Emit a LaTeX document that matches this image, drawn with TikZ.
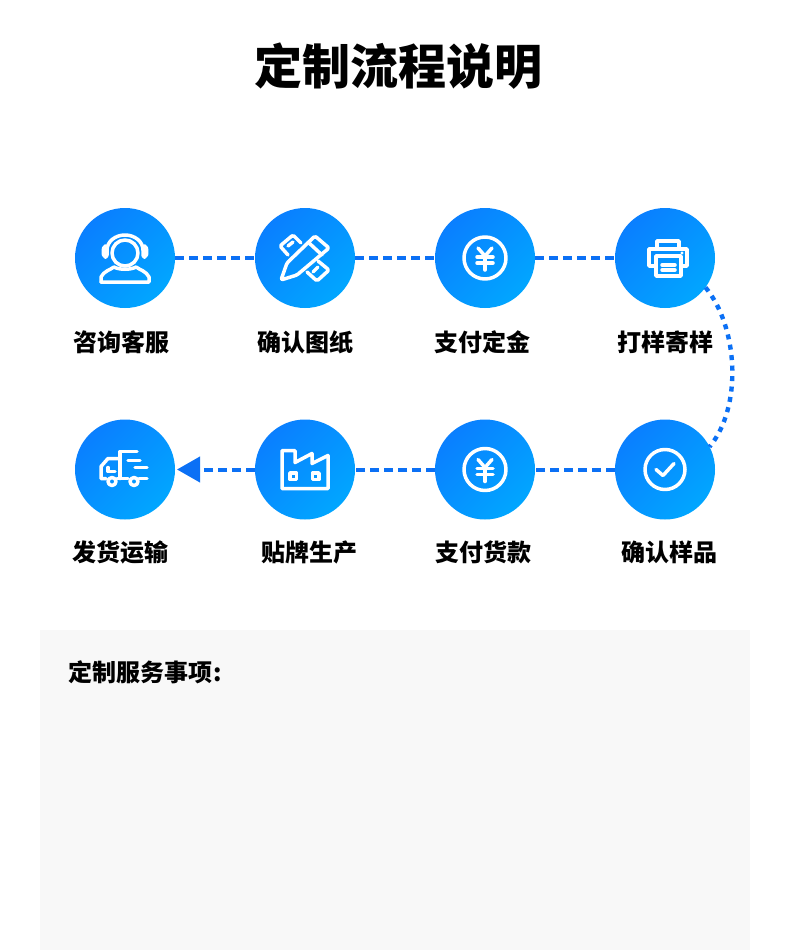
\documentclass[tikz,border=0pt]{standalone}
\usepackage{fontspec}
\setmainfont{Noto Sans CJK SC}
\usetikzlibrary{arrows.meta}
\definecolor{linkblue}{HTML}{0B70F5}
\definecolor{panelgray}{HTML}{F8F8F8}
\definecolor{gradA}{HTML}{0A7FFF}
\definecolor{gradB}{HTML}{01A6FF}
\tikzset{
  stepdisc/.style={circle,minimum size=100pt,inner sep=0pt,outer sep=0pt,shading=axis,top color=gradA,bottom color=gradB,middle color=gradA!50!gradB,shading angle=45},
  steplabel/.style={inner sep=0pt,font=\fontsize{24}{24}\selectfont\bfseries,text=black},
  linkline/.style={linkblue,line width=4pt,dash pattern=on 9pt off 5pt},
  linkdots/.style={linkblue,line width=4.4pt,dash pattern=on 5pt off 5.5pt},
  icon/.style={white,line width=3.5pt,line join=round,line cap=round,fill=none},
}
\begin{document}
\begin{tikzpicture}[x=1pt,y=-1pt]
\useasboundingbox (0,0) rectangle (790,950);
\fill[white] (0,0) rectangle (790,950);
\fill[panelgray] (40,630) rectangle (750,950);
\node[inner sep=0pt,font=\fontsize{48}{48}\selectfont\bfseries] (title) at (398,66) {定制流程说明};
\node[stepdisc] (c1) at (125,258) {};
\node[stepdisc] (c2) at (305,258) {};
\node[stepdisc] (c3) at (485,258) {};
\node[stepdisc] (c4) at (665,258) {};
\node[stepdisc] (c5) at (665,469.5) {};
\node[stepdisc] (c6) at (485,469.5) {};
\node[stepdisc] (c7) at (305,469.5) {};
\node[stepdisc] (c8) at (125,469.5) {};
\node[steplabel] (l1) at (121,342) {咨询客服};
\node[steplabel] (l2) at (305,342) {确认图纸};
\node[steplabel] (l3) at (482,342) {支付定金};
\node[steplabel] (l4) at (665,342) {打样寄样};
\node[steplabel] (l5) at (669,552) {确认样品};
\node[steplabel] (l6) at (483,552) {支付货款};
\node[steplabel] (l7) at (309,552) {贴牌生产};
\node[steplabel] (l8) at (120,552) {发货运输};
\node[inner sep=0pt,anchor=west,font=\fontsize{24}{24}\selectfont\bfseries] (head) at (68,672) {定制服务事项\hspace{1pt}:};
\draw[linkline] (c1) -- (c2);
\draw[linkline] (c2) -- (c3);
\draw[linkline] (c3) -- (c4);
\draw[linkdots] (c4.-36) .. controls +(33,40) and +(33,-40) .. (c5.27);
\draw[linkline] (c5) -- (c6);
\draw[linkline] (c6) -- (c7);
\draw[linkline,-{Triangle[length=23pt,width=25pt]},shorten >=2pt] (c7) -- (c8);
% icons
\begin{scope}[shift={(c1)},icon]
 \draw (0,-5) circle (13);
 \draw (-18,-8) arc (180:360:18 and 15);
 \draw[rounded corners=2pt] (-18,-12) -- (-21,-12) -- (-22,-6) -- (-21,-1) -- (-18,-1) -- cycle;
 \draw[rounded corners=2pt] (18,-12) -- (21,-12) -- (22,-6) -- (21,-1) -- (18,-1) -- cycle;
 \draw (-24,24) -- (24,24) -- (24,19) .. controls (21,13) and (15,12) .. (11,9);
 \draw (-11,9) .. controls (-15,12) and (-21,13) .. (-24,19) -- (-24,24);
 \draw (-11,9) .. controls (-6,12) and (6,12) .. (11,9);
\end{scope}
\begin{scope}[shift={(c2)},icon,rounded corners=1.5pt]
 \draw (-24,22) -- (-18,5) -- (10,-22) -- (24,-10) -- (-8,17) -- cycle;
 \draw (3,-16) -- (17,-3);
 \draw (-4,-15) -- (-12,-23) -- (-25,-12) -- (-17,-3);
 \draw (-17,-12) -- (-12,-16);
 \draw (13,3) -- (24,12) -- (12,23) -- (2,14);
 \draw (8,14) -- (13,9);
\end{scope}
\begin{scope}[shift={(c3)},icon]
 \draw (0,0) circle (21);
 \draw (-7,-10) -- (0,-2) -- (7,-10);
 \draw (-8,-1) -- (8,-1); \draw (-8,5) -- (8,5);
 \draw (0,-2) -- (0,12);
\end{scope}
\begin{scope}[shift={(c4)},icon]
 \draw (-8,-10) -- (-8,-17) -- (14,-17) -- (14,-10);
 \draw (-9,8) -- (-16,8) -- (-16,-9) -- (22,-9) -- (22,8) -- (16,8);
 \draw (-9,-2) rectangle (16,18);
 \draw (-3,7) -- (10,7); \draw (-3,12) -- (10,12);
 \fill[white,draw=none] (17,-5) circle (1.6);
\end{scope}
\begin{scope}[shift={(c5)},icon]
 \draw (0,0) circle (20);
 \draw (-9,0) -- (-2,6) -- (9,-6);
\end{scope}
\begin{scope}[shift={(c6)},icon]
 \draw (0,0) circle (21);
 \draw (-7,-10) -- (0,-2) -- (7,-10);
 \draw (-8,-1) -- (8,-1); \draw (-8,5) -- (8,5);
 \draw (0,-2) -- (0,12);
\end{scope}
\begin{scope}[shift={(c7)},icon]
 \draw (-23,19) -- (-23,-19) -- (-10,-19) -- (-10,-7) -- (7,-16) -- (7,-6) -- (23,-14) -- (23,19) -- cycle;
 \draw (-15,3.5) rectangle (-8.5,10);
 \draw (7.5,3.5) rectangle (14,10);
\end{scope}
\begin{scope}[shift={(c8)},icon]
 \draw (-5,9) -- (-5,-18) -- (12,-18);
 \draw (-5,-11) -- (-17,-11) -- (-24,-3) -- (-24,9) -- (-19,9);
 \draw (-17,-2) -- (-17,2) -- (-10,2);
 \draw (-8,9) -- (3,9);
 \draw (14,9) -- (22,9);
 \draw (3,-9) -- (15,-9);
 \draw (10,-2) -- (22,-2);
 \draw (-13,12) circle (4);
 \draw (9,12) circle (4);
\end{scope}
\end{tikzpicture}
\end{document}
